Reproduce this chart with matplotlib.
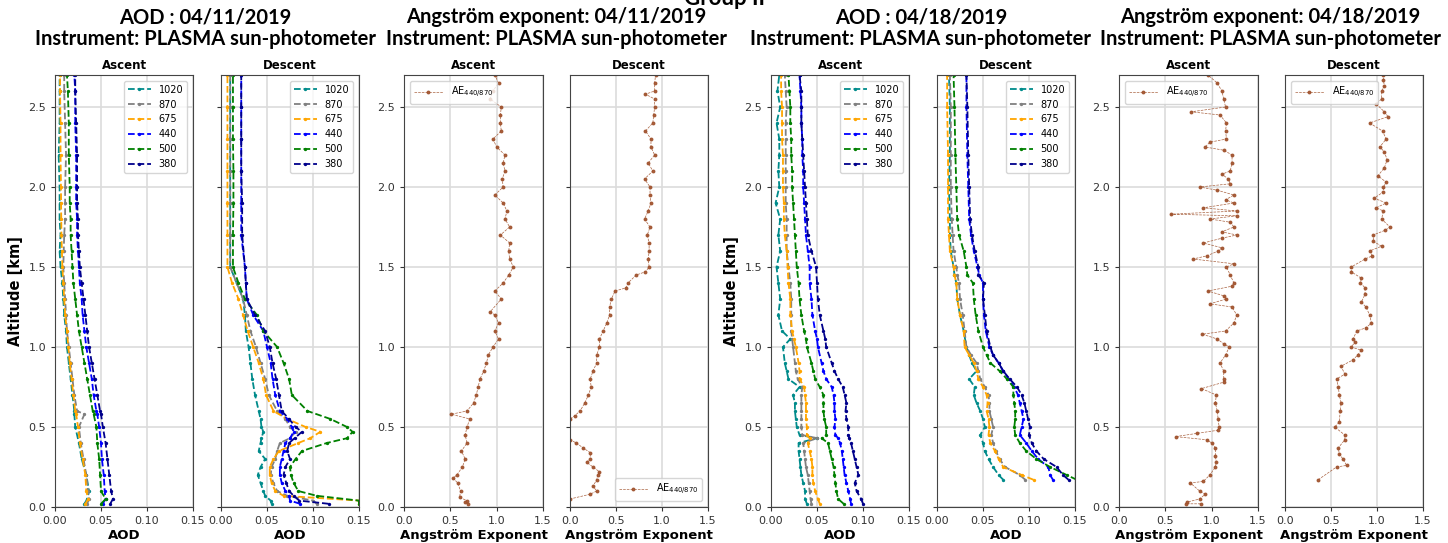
import numpy as np
import matplotlib.pyplot as plt

# ---- AOD 04/11/2019, ascent
alt_a11 = [0.02, 0.05, 0.1, 0.2, 0.3, 0.4, 0.5, 0.58, 0.6, 0.7, 0.8, 0.9, 1.0, 1.1,
           1.2, 1.3, 1.4, 1.5, 1.6, 1.7, 1.8, 1.9, 2.0, 2.2, 2.4, 2.6, 2.7]
a11_1020 = [0.032, 0.035, 0.037, 0.034, 0.029, 0.026, 0.022, 0.021, 0.021, 0.019, 0.017, 0.015, 0.013, 0.012,
            0.010, 0.009, 0.008, 0.006, 0.005, 0.006, 0.005, 0.005, 0.005, 0.004, 0.005, 0.005, 0.005]
a11_870 = [0.035, 0.037, 0.036, 0.034, 0.031, 0.028, 0.026, 0.032, 0.024, 0.021, 0.019, 0.017, 0.015, 0.013,
           0.012, 0.011, 0.010, 0.009, 0.0095, 0.010, 0.011, 0.011, 0.011, 0.012, 0.011, 0.010, 0.010]
a11_675 = [0.033, 0.036, 0.034, 0.033, 0.030, 0.027, 0.025, 0.023, 0.022, 0.020, 0.018, 0.016, 0.0145, 0.013,
           0.011, 0.010, 0.009, 0.008, 0.0075, 0.007, 0.0068, 0.0066, 0.0065, 0.006, 0.006, 0.0055, 0.0055]
a11_440 = [0.052, 0.055, 0.054, 0.053, 0.051, 0.050, 0.048, 0.046, 0.045, 0.042, 0.040, 0.037, 0.034, 0.032,
           0.030, 0.029, 0.027, 0.026, 0.025, 0.024, 0.024, 0.023, 0.023, 0.023, 0.022, 0.022, 0.021]
a11_500 = [0.050, 0.055, 0.050, 0.049, 0.048, 0.046, 0.045, 0.042, 0.041, 0.038, 0.035, 0.032, 0.029, 0.026,
           0.024, 0.022, 0.020, 0.019, 0.018, 0.017, 0.017, 0.016, 0.016, 0.015, 0.015, 0.014, 0.013]
a11_380 = [0.060, 0.063, 0.061, 0.059, 0.057, 0.055, 0.052, 0.050, 0.049, 0.046, 0.043, 0.040, 0.037, 0.035,
           0.033, 0.031, 0.029, 0.027, 0.026, 0.025, 0.025, 0.024, 0.024, 0.024, 0.023, 0.022, 0.022]

# ---- AOD 04/11/2019, descent
alt_d11 = [0.02, 0.04, 0.07, 0.1, 0.15, 0.2, 0.25, 0.3, 0.35, 0.4, 0.43, 0.47, 0.5, 0.55, 0.6,
           0.7, 0.8, 0.9, 1.0, 1.1, 1.2, 1.3, 1.4, 1.5, 1.7, 1.9, 2.1, 2.3, 2.5, 2.7]
d11_1020 = [0.055, 0.054, 0.048, 0.046, 0.043, 0.040, 0.043, 0.048, 0.041, 0.043, 0.044, 0.046, 0.044, 0.043, 0.041,
            0.037, 0.034, 0.032, 0.030, 0.027, 0.026, 0.024, 0.017, 0.010, 0.010, 0.010, 0.010, 0.010, 0.010, 0.010]
d11_870 = [0.104, 0.100, 0.072, 0.061, 0.057, 0.054, 0.055, 0.059, 0.061, 0.064, 0.075, 0.081, 0.075, 0.070, 0.061,
           0.052, 0.048, 0.043, 0.038, 0.032, 0.028, 0.024, 0.017, 0.010, 0.010, 0.010, 0.010, 0.010, 0.010, 0.010]
d11_675 = [0.150, 0.150, 0.068, 0.059, 0.055, 0.053, 0.053, 0.057, 0.063, 0.084, 0.097, 0.108, 0.092, 0.072, 0.057,
           0.049, 0.046, 0.041, 0.035, 0.029, 0.024, 0.019, 0.012, 0.007, 0.007, 0.007, 0.007, 0.007, 0.007, 0.007]
d11_440 = [0.086, 0.075, 0.074, 0.070, 0.066, 0.064, 0.064, 0.066, 0.068, 0.070, 0.075, 0.079, 0.077, 0.072, 0.064,
           0.059, 0.056, 0.054, 0.050, 0.046, 0.035, 0.028, 0.027, 0.026, 0.022, 0.022, 0.022, 0.022, 0.022, 0.022]
d11_500 = [0.150, 0.150, 0.104, 0.084, 0.079, 0.076, 0.075, 0.081, 0.088, 0.115, 0.137, 0.143, 0.137, 0.119, 0.094,
           0.077, 0.074, 0.068, 0.061, 0.046, 0.039, 0.026, 0.019, 0.013, 0.013, 0.0135, 0.0135, 0.013, 0.013, 0.013]
d11_380 = [0.117, 0.085, 0.079, 0.074, 0.071, 0.068, 0.070, 0.075, 0.072, 0.074, 0.080, 0.088, 0.081, 0.074, 0.066,
           0.063, 0.060, 0.056, 0.053, 0.048, 0.037, 0.028, 0.027, 0.026, 0.023, 0.023, 0.022, 0.022, 0.022, 0.022]

# ---- AE 04/11/2019
ae_alt_a11 = [0.02, 0.03, 0.04, 0.06, 0.1, 0.15, 0.18, 0.2, 0.25, 0.3, 0.35, 0.4, 0.45, 0.5, 0.55,
              0.58, 0.6, 0.65, 0.7, 0.75, 0.8, 0.85, 0.9, 0.95, 1.0, 1.05, 1.1, 1.15, 1.2, 1.22,
              1.3, 1.35, 1.4, 1.45, 1.5, 1.55, 1.6, 1.65, 1.7, 1.75, 1.8, 1.85, 1.9, 1.95, 2.0,
              2.05, 2.1, 2.15, 2.2, 2.25, 2.3, 2.35, 2.4, 2.45, 2.5, 2.55, 2.6, 2.65, 2.7]
ae_a11 = [0.69, 0.66, 0.68, 0.60, 0.61, 0.58, 0.53, 0.57, 0.63, 0.66, 0.62, 0.68, 0.66, 0.68, 0.71,
          0.51, 0.68, 0.75, 0.78, 0.80, 0.82, 0.86, 0.89, 0.91, 0.96, 1.02, 0.98, 1.02, 0.98, 0.93,
          1.05, 0.98, 1.07, 1.13, 1.18, 1.14, 1.13, 1.14, 1.04, 1.14, 1.09, 1.11, 1.07, 0.98, 1.07,
          1.06, 1.09, 1.07, 1.09, 1.00, 0.96, 1.05, 1.04, 1.04, 1.05, 0.93, 0.96, 1.02, 0.98]
ae_alt_d11 = [0.03, 0.05, 0.08, 0.1, 0.13, 0.17, 0.2, 0.22, 0.25, 0.28, 0.3, 0.34, 0.37, 0.4, 0.42,
              0.47, 0.52, 0.55, 0.57, 0.6, 0.65, 0.7, 0.75, 0.8, 0.85, 0.9, 0.95, 1.0, 1.05, 1.1,
              1.15, 1.2, 1.25, 1.3, 1.35, 1.37, 1.4, 1.45, 1.47, 1.5, 1.55, 1.6, 1.65, 1.7, 1.75,
              1.8, 1.85, 1.9, 1.95, 2.0, 2.05, 2.1, 2.15, 2.2, 2.25, 2.3, 2.35, 2.4, 2.45, 2.5,
              2.55, 2.58, 2.6, 2.65, 2.7]
ae_d11 = [-0.2, 0.0, 0.22, 0.29, 0.25, 0.29, 0.30, 0.32, 0.25, 0.18, 0.22, 0.22, 0.14, 0.07, 0.0,
          -0.3, -0.2, 0.0, 0.05, 0.11, 0.16, 0.20, 0.23, 0.22, 0.25, 0.29, 0.29, 0.32, 0.32, 0.36,
          0.40, 0.43, 0.43, 0.45, 0.49, 0.61, 0.63, 0.72, 0.82, 0.86, 0.85, 0.86, 0.86, 0.84, 0.87,
          0.81, 0.85, 0.88, 0.87, 0.87, 0.81, 0.90, 0.85, 0.92, 0.88, 0.88, 0.82, 0.90, 0.91, 0.92,
          0.92, 0.82, 0.92, 0.92, 0.93]

# ---- AOD 04/18/2019, ascent
alt_a18 = [0.02, 0.05, 0.1, 0.15, 0.2, 0.25, 0.3, 0.35, 0.4, 0.43, 0.45, 0.5, 0.55, 0.6, 0.65, 0.7,
           0.75, 0.8, 0.85, 0.9, 1.0, 1.05, 1.1, 1.2, 1.3, 1.4, 1.5, 1.6, 1.7, 1.8, 1.9, 2.0,
           2.1, 2.2, 2.3, 2.4, 2.5, 2.6, 2.7]
a18_1020 = [0.039, 0.037, 0.037, 0.035, 0.033, 0.032, 0.031, 0.030, 0.030, 0.050, 0.031, 0.028, 0.027, 0.026, 0.026, 0.024,
            0.031, 0.019, 0.017, 0.015, 0.013, 0.021, 0.012, 0.008, 0.010, 0.008, 0.006, 0.010, 0.008, 0.010, 0.005, 0.009,
            0.008, 0.009, 0.009, 0.006, 0.010, 0.007, 0.009]
a18_870 = [0.044, 0.043, 0.042, 0.041, 0.040, 0.038, 0.037, 0.036, 0.035, 0.050, 0.034, 0.033, 0.033, 0.033, 0.033, 0.033,
           0.034, 0.029, 0.027, 0.026, 0.024, 0.023, 0.022, 0.022, 0.022, 0.021, 0.019, 0.017, 0.017, 0.017, 0.016, 0.016,
           0.016, 0.016, 0.016, 0.016, 0.017, 0.016, 0.015]
a18_675 = [0.053, 0.051, 0.048, 0.046, 0.045, 0.045, 0.044, 0.042, 0.040, 0.042, 0.039, 0.039, 0.038, 0.038, 0.038, 0.037,
           0.036, 0.031, 0.031, 0.030, 0.027, 0.025, 0.023, 0.021, 0.021, 0.019, 0.018, 0.017, 0.015, 0.014, 0.014, 0.013,
           0.013, 0.013, 0.012, 0.012, 0.012, 0.011, 0.011]
a18_440 = [0.087, 0.086, 0.084, 0.082, 0.080, 0.079, 0.078, 0.077, 0.075, 0.073, 0.070, 0.069, 0.070, 0.069, 0.069, 0.068,
           0.066, 0.060, 0.057, 0.055, 0.051, 0.050, 0.048, 0.045, 0.044, 0.042, 0.042, 0.040, 0.038, 0.037, 0.036, 0.035,
           0.035, 0.034, 0.034, 0.033, 0.033, 0.032, 0.031]
a18_500 = [0.079, 0.073, 0.071, 0.070, 0.069, 0.068, 0.066, 0.064, 0.062, 0.055, 0.060, 0.060, 0.058, 0.057, 0.057, 0.057,
           0.053, 0.048, 0.046, 0.044, 0.039, 0.038, 0.036, 0.033, 0.031, 0.030, 0.028, 0.027, 0.026, 0.025, 0.024, 0.023,
           0.023, 0.022, 0.022, 0.021, 0.021, 0.020, 0.019]
a18_380 = [0.100, 0.098, 0.093, 0.091, 0.095, 0.093, 0.091, 0.089, 0.087, 0.085, 0.084, 0.084, 0.082, 0.081, 0.082, 0.080,
           0.078, 0.073, 0.069, 0.066, 0.060, 0.059, 0.057, 0.053, 0.051, 0.050, 0.049, 0.044, 0.040, 0.039, 0.038, 0.037,
           0.036, 0.035, 0.034, 0.033, 0.033, 0.033, 0.031]

# ---- AOD 04/18/2019, descent
alt_d18 = [0.17, 0.2, 0.25, 0.3, 0.35, 0.4, 0.45, 0.5, 0.55, 0.6, 0.65, 0.7, 0.75, 0.8, 0.85, 0.9,
           0.95, 1.0, 1.1, 1.2, 1.3, 1.4, 1.45, 1.5, 1.6, 1.7, 1.8, 2.0, 2.2, 2.5, 2.7]
d18_1020 = [0.072, 0.067, 0.061, 0.056, 0.052, 0.050, 0.047, 0.052, 0.050, 0.047, 0.043, 0.040, 0.041, 0.035, 0.043, 0.038,
            0.035, 0.032, 0.029, 0.025, 0.022, 0.021, 0.019, 0.018, 0.015, 0.014, 0.014, 0.013, 0.014, 0.014, 0.013]
d18_870 = [0.096, 0.090, 0.074, 0.068, 0.064, 0.061, 0.059, 0.061, 0.059, 0.057, 0.057, 0.056, 0.052, 0.047, 0.045, 0.043,
           0.037, 0.032, 0.030, 0.028, 0.025, 0.024, 0.022, 0.021, 0.018, 0.017, 0.016, 0.015, 0.015, 0.015, 0.014]
d18_675 = [0.105, 0.092, 0.072, 0.067, 0.063, 0.058, 0.056, 0.057, 0.056, 0.054, 0.055, 0.054, 0.050, 0.045, 0.043, 0.040,
           0.035, 0.030, 0.029, 0.025, 0.022, 0.021, 0.019, 0.018, 0.014, 0.013, 0.012, 0.012, 0.012, 0.011, 0.011]
d18_440 = [0.126, 0.123, 0.121, 0.110, 0.103, 0.097, 0.090, 0.092, 0.094, 0.092, 0.090, 0.088, 0.084, 0.078, 0.072, 0.067,
           0.061, 0.057, 0.053, 0.051, 0.050, 0.050, 0.046, 0.044, 0.040, 0.037, 0.035, 0.034, 0.033, 0.032, 0.032]
d18_500 = [0.152, 0.141, 0.123, 0.108, 0.097, 0.090, 0.085, 0.084, 0.085, 0.085, 0.084, 0.083, 0.083, 0.076, 0.068, 0.058,
           0.054, 0.050, 0.045, 0.042, 0.040, 0.039, 0.033, 0.032, 0.029, 0.024, 0.022, 0.021, 0.020, 0.019, 0.018]
d18_380 = [0.143, 0.137, 0.130, 0.116, 0.108, 0.103, 0.100, 0.101, 0.099, 0.097, 0.095, 0.092, 0.087, 0.079, 0.072, 0.067,
           0.061, 0.058, 0.054, 0.052, 0.050, 0.051, 0.045, 0.045, 0.041, 0.038, 0.036, 0.035, 0.034, 0.033, 0.032]

# ---- AE 04/18/2019
ae_alt_a18 = [0.02, 0.02, 0.03, 0.05, 0.08, 0.1, 0.15, 0.16, 0.2, 0.25, 0.28, 0.32, 0.37, 0.4, 0.42,
              0.44, 0.46, 0.48, 0.5, 0.55, 0.6, 0.65, 0.7, 0.74, 0.78, 0.8, 0.85, 0.9, 0.95, 1.0,
              1.02, 1.05, 1.08, 1.1, 1.15, 1.2, 1.25, 1.27, 1.3, 1.32, 1.35, 1.38, 1.4, 1.45, 1.5,
              1.52, 1.55, 1.57, 1.6, 1.62, 1.65, 1.68, 1.7, 1.72, 1.75, 1.78, 1.8, 1.82, 1.83, 1.85,
              1.87, 1.9, 1.92, 1.95, 1.98, 2.0, 2.02, 2.05, 2.08, 2.1, 2.15, 2.2, 2.23, 2.25, 2.28,
              2.3, 2.35, 2.4, 2.45, 2.47, 2.5, 2.55, 2.6, 2.65, 2.7]
ae_a18 = [0.88, 0.72, 0.73, 0.87, 0.93, 0.87, 0.77, 0.91, 0.98, 1.04, 1.05, 1.04, 1.04, 1.00, 0.95,
          0.61, 0.84, 1.07, 1.08, 1.07, 1.06, 1.04, 1.05, 0.89, 1.13, 1.13, 1.13, 1.09, 1.15, 1.19,
          1.13, 1.06, 0.90, 1.15, 1.24, 1.27, 1.22, 0.98, 1.16, 1.13, 0.96, 1.22, 1.24, 1.20, 1.16,
          1.24, 0.80, 0.95, 1.07, 1.11, 0.91, 1.11, 1.27, 1.11, 1.24, 1.20, 0.98, 1.27, 0.56, 1.27,
          0.91, 1.24, 1.15, 1.24, 1.06, 0.87, 1.20, 1.18, 1.11, 1.20, 1.22, 1.22, 1.13, 0.93, 0.98,
          1.16, 1.15, 1.16, 1.09, 0.78, 1.15, 1.13, 1.11, 1.06, 0.96]
ae_alt_d18 = [0.17, 0.25, 0.26, 0.3, 0.33, 0.37, 0.42, 0.45, 0.5, 0.53, 0.6, 0.65, 0.7, 0.75, 0.8,
              0.83, 0.88, 0.92, 0.95, 0.98, 1.0, 1.03, 1.05, 1.1, 1.12, 1.15, 1.2, 1.25, 1.28, 1.33,
              1.37, 1.4, 1.43, 1.47, 1.5, 1.55, 1.57, 1.6, 1.63, 1.66, 1.7, 1.73, 1.75, 1.8, 1.85,
              1.87, 1.9, 1.93, 1.97, 2.0, 2.03, 2.07, 2.12, 2.17, 2.22, 2.25, 2.3, 2.35, 2.4, 2.44,
              2.47, 2.52, 2.55, 2.6, 2.63, 2.67, 2.7]
ae_d18 = [0.36, 0.56, 0.67, 0.63, 0.59, 0.58, 0.65, 0.65, 0.54, 0.59, 0.60, 0.61, 0.59, 0.58, 0.56,
          0.65, 0.61, 0.74, 0.79, 0.83, 0.72, 0.76, 0.74, 0.78, 0.88, 0.94, 0.92, 0.88, 0.83, 0.87,
          0.87, 0.82, 0.83, 0.72, 0.72, 0.87, 0.95, 0.92, 1.05, 0.96, 0.96, 1.09, 1.14, 1.05, 1.07,
          0.99, 1.10, 0.97, 1.07, 1.07, 1.10, 1.01, 1.08, 1.11, 1.08, 1.03, 1.10, 1.06, 0.92, 1.12,
          1.08, 0.99, 1.05, 1.05, 1.08, 1.07, 1.07]

wl_labels = ["1020", "870", "675", "440", "500", "380"]
wl_colors = ["darkcyan", "gray", "orange", "blue", "green", "darkblue"]

W, H = 1448, 543
fig = plt.figure(figsize=(W / 100, H / 100), dpi=100)


def box(l, r):
    return [l / W, 36 / H, (r - l) / W, 432 / H]


def style(ax, title, xlabel, xt, show_y):
    ax.set_title(title, fontsize=8.5, fontweight="bold", pad=4)
    ax.set_xlabel(xlabel, fontsize=9.5, fontweight="bold", labelpad=2)
    ax.set_ylim(0, 2.7)
    ax.set_xlim(xt[0], xt[-1])
    ax.set_xticks(xt)
    ax.set_yticks([0, 0.5, 1.0, 1.5, 2.0, 2.5])
    ax.grid(True, color="#dcdcdc", lw=1.2)
    ax.set_axisbelow(True)
    ax.tick_params(labelsize=8, labelcolor="#333333", length=3, color="#333333")
    if not show_y:
        ax.set_yticklabels([])
    for s in ax.spines.values():
        s.set_color("#444444")


def aod_panel(ax, alt, series, title, show_y):
    for vals, lab, col in zip(series, wl_labels, wl_colors):
        ax.plot(vals, alt, "--", marker=".", ms=2.8, lw=1.3, color=col, label=lab)
    style(ax, title, "AOD", [0, 0.05, 0.10, 0.15], show_y)
    ax.legend(loc="upper right", fontsize=7, handlelength=2.4, borderaxespad=0.6)


def ae_panel(ax, alt, vals, title, show_y, loc):
    ax.plot(vals, alt, "--", marker="o", ms=1.8, lw=0.5, color="sienna", alpha=0.9,
            label=r"AE$_{440/870}$")
    style(ax, title, "Angström Exponent", [0, 0.5, 1.0, 1.5], show_y)
    ax.legend(loc=loc, fontsize=7, handlelength=3, borderaxespad=0.6)


ax1 = fig.add_axes(box(55, 193))
aod_panel(ax1, alt_a11, [a11_1020, a11_870, a11_675, a11_440, a11_500, a11_380], "Ascent", True)
ax1.set_ylabel("Altitude [km]", fontsize=10.5, fontweight="bold")
ax2 = fig.add_axes(box(221, 359))
aod_panel(ax2, alt_d11, [d11_1020, d11_870, d11_675, d11_440, d11_500, d11_380], "Descent", False)
ax3 = fig.add_axes(box(404, 543))
ae_panel(ax3, ae_alt_a11, ae_a11, "Ascent", True, "upper left")
ax4 = fig.add_axes(box(570, 708))
ae_panel(ax4, ae_alt_d11, ae_d11, "Descent", False, "lower right")

ax5 = fig.add_axes(box(771, 909))
aod_panel(ax5, alt_a18, [a18_1020, a18_870, a18_675, a18_440, a18_500, a18_380], "Ascent", True)
ax5.set_ylabel("Altitude [km]", fontsize=10.5, fontweight="bold")
ax6 = fig.add_axes(box(937, 1075))
aod_panel(ax6, alt_d18, [d18_1020, d18_870, d18_675, d18_440, d18_500, d18_380], "Descent", False)
ax7 = fig.add_axes(box(1119, 1258))
ae_panel(ax7, ae_alt_a18, ae_a18, "Ascent", True, "upper left")
ax8 = fig.add_axes(box(1285, 1423))
ae_panel(ax8, ae_alt_d18, ae_d18, "Descent", False, "upper left")

tfont = dict(fontweight="bold", family=["Lato", "DejaVu Sans"], ha="center", va="center")
fig.text(724 / W, 1 + 1 / H, "Group II", fontsize=16, **tfont)
heads = [(205, "AOD : 04/11/2019"), (556, "Angström exponent: 04/11/2019"),
         (921, "AOD : 04/18/2019"), (1270, "Angström exponent: 04/18/2019")]
for xc, line1 in heads:
    fig.text(xc / W, 1 - 17 / H, line1, fontsize=14.5, **tfont)
    fig.text(xc / W, 1 - 39 / H, "Instrument: PLASMA sun-photometer", fontsize=14.5, **tfont)

fig.savefig("out.png", dpi=100)
